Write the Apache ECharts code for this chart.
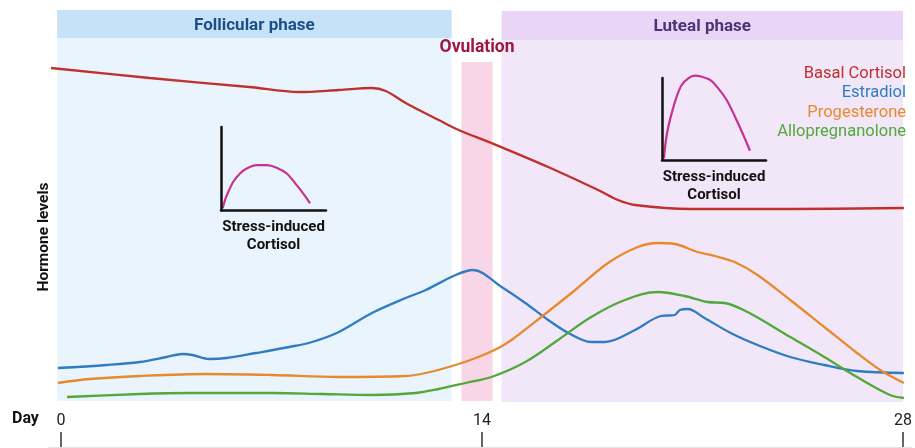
<!DOCTYPE html>
<html>
<head>
<meta charset="utf-8">
<script src="https://cdn.jsdelivr.net/npm/echarts@6/dist/echarts.min.js"></script>
<style>
html,body{margin:0;padding:0;background:#fff;}
#chart{width:915px;height:448px;}
</style>
</head>
<body>
<div id="chart"></div>
<script>
// ---- data (x = cycle day, y = relative hormone level) ----
const dayTicks = [0, 14, 28];
const basalCortisol = [[-0.33,379],[2.95,369],[6.26,360],[7.92,355],[9.24,357],[10.34,359],[10.80,356],[11.46,344],[12.56,327],[13.22,317],[14.31,304],[16.20,280],[17.86,257],[18.52,247],[19.09,242],[20.94,238],[24.25,238],[28.03,239]];
const estradiol = [[-0.10,79],[1.52,82],[2.62,85],[3.51,90],[4.04,93],[4.37,92],[4.94,88],[5.50,89],[6.49,94],[7.59,100],[8.35,105],[9.24,115],[10.34,134],[11.46,149],[12.13,157],[13.12,172],[13.70,177],[14.65,160],[15.44,144],[16.20,127],[16.87,114],[17.63,105],[18.09,105],[19.09,117],[19.95,131],[20.41,132],[20.58,137],[20.84,138],[21.40,129],[22.27,114],[23.16,102],[24.25,90],[25.38,82],[26.47,76],[28.03,74]];
const progesterone = [[-0.10,64],[0.96,68],[2.62,71],[4.84,73],[7.02,72],[9.24,70],[11.46,71],[12.13,74],[13.12,82],[13.88,90],[14.55,99],[14.98,107],[15.97,130],[17.10,157],[18.19,184],[19.18,200],[19.85,204],[20.41,203],[21.17,195],[21.74,191],[22.40,185],[23.16,172],[24.25,147],[25.38,120],[26.47,94],[27.24,77],[28.03,64]];
const allopregnanolone = [[0.20,50],[2.62,53],[4.27,54],[7.02,54],[8.68,53],[10.34,52],[11.80,54],[12.56,58],[13.45,64],[14.31,70],[15.44,85],[16.53,107],[17.63,130],[18.75,147],[19.85,155],[20.74,151],[21.50,145],[22.07,144],[22.83,135],[24.25,110],[25.38,90],[26.47,70],[27.57,52],[28.03,49]];
// phases: [startDay, endDay]
const follicularPhase = [-0.13, 12.99];
const ovulationPhase = [13.32, 14.35];
const lutealPhase = [14.65, 28.0];
// inset curves (stress-induced cortisol response)
const stressFollicular = [[0.16,0.2],[0.38,1.2],[0.70,2.2],[1.17,3.4],[1.81,4.4],[2.45,5.0],[3.40,5.4],[4.35,5.4],[5.30,5.1],[6.26,4.4],[7.21,3.0],[8.0,1.7],[8.48,0.8]];
const stressLuteal = [[0.19,0.2],[0.38,2.44],[0.61,4.06],[0.93,5.69],[1.41,7.72],[1.89,9.15],[2.53,9.96],[3.17,10.28],[3.82,10.16],[4.62,9.76],[5.41,8.74],[6.22,7.32],[7.02,5.28],[7.82,3.05],[8.46,1.13]];

const C = {red:'#c0302c', blue:'#2f7cc3', orange:'#e8892c', green:'#52a83a', magenta:'#c8318f'};
const FONT = 'Roboto';

const chart = echarts.init(document.getElementById('chart'));

function inset(gi){
  return {
    x: {gridIndex:gi, type:'value', min:0, max:10, z:6, axisLine:{show:true, onZero:false, lineStyle:{color:'#111', width:2.5}}, axisTick:{show:false}, axisLabel:{show:false}, splitLine:{show:false},
        name:'Stress-induced\nCortisol', nameLocation:'middle', nameGap:8,
        nameTextStyle:{fontFamily:FONT, fontWeight:'bold', fontSize:15, color:'#111', lineHeight:18, verticalAlign:'top'}},
    y: {gridIndex:gi, type:'value', min:0, max:10, z:6, axisLine:{show:true, onZero:false, lineStyle:{color:'#111', width:2.5}}, axisTick:{show:false}, axisLabel:{show:false}, splitLine:{show:false}}
  };
}
const in1 = inset(1), in2 = inset(2);

function lineSeries(name, data, color){
  return {name, type:'line', data, smooth:0.35, showSymbol:false, symbol:'none', z:3,
    lineStyle:{color, width:2.3}, itemStyle:{color}, clip:false};
}
function legendAt(name, color, top){
  return {data:[name], right:9, top, itemWidth:0, itemHeight:0, itemGap:0, icon:'rect', selectedMode:false,
    padding:0, textStyle:{color, fontFamily:FONT, fontSize:16.5, padding:[0,0,0,-5]}};
}

const option = {
  backgroundColor:'#fff',
  animation:false,
  grid:[
    {left:49, right:0, top:10, bottom:1},
    {left:221, top:127, width:105, height:83},
    {left:662, top:78, width:104, height:82}
  ],
  xAxis:[
    {gridIndex:0, type:'value', min:-0.4, max:28.3,
     axisLine:{show:true, lineStyle:{color:'#e3e3e3', width:1}},
     axisTick:{show:true, inside:true, length:15, customValues:dayTicks, lineStyle:{color:'#333', width:1.5}},
     axisLabel:{show:true, inside:true, margin:18, customValues:dayTicks, color:'#222', fontFamily:FONT, fontSize:16},
     splitLine:{show:false}},
    in1.x, in2.x
  ],
  yAxis:[
    {gridIndex:0, type:'value', min:0, max:437, axisLine:{show:false}, axisTick:{show:false}, axisLabel:{show:false}, splitLine:{show:false}},
    in1.y, in2.y
  ],
  legend:[
    legendAt('Basal Cortisol', C.red, 65),
    legendAt('Estradiol', C.blue, 84),
    legendAt('Progesterone', C.orange, 104),
    legendAt('Allopregnanolone', C.green, 123)
  ],
  series:[
    {type:'line', data:[], z:0, silent:true,
     markArea:{silent:true, data:[
       [{xAxis:follicularPhase[0], yAxis:409, itemStyle:{color:'#e9f4fd'}}, {xAxis:follicularPhase[1], yAxis:46}],
       [{xAxis:follicularPhase[0], yAxis:437, itemStyle:{color:'#c6e2f8'},
         label:{show:true, position:'inside', offset:[0,2], formatter:'Follicular phase', color:'#1d4f85', fontFamily:FONT, fontWeight:'bold', fontSize:17}},
        {xAxis:follicularPhase[1], yAxis:409}],
       [{xAxis:ovulationPhase[0], yAxis:385, itemStyle:{color:'#f9d5e8'},
         label:{show:true, position:'top', distance:5, formatter:'Ovulation', color:'#a01642', fontFamily:FONT, fontWeight:'bold', fontSize:17.5}},
        {xAxis:ovulationPhase[1], yAxis:46}],
       [{xAxis:lutealPhase[0], yAxis:407, itemStyle:{color:'#f2e7f9'}}, {xAxis:lutealPhase[1], yAxis:45}],
       [{xAxis:lutealPhase[0], yAxis:436, itemStyle:{color:'#e9d5f5'},
         label:{show:true, position:'inside', offset:[0,1], formatter:'Luteal phase', color:'#4a3377', fontFamily:FONT, fontWeight:'bold', fontSize:17}},
        {xAxis:lutealPhase[1], yAxis:407}]
     ]}},
    lineSeries('Basal Cortisol', basalCortisol, C.red),
    lineSeries('Estradiol', estradiol, C.blue),
    lineSeries('Progesterone', progesterone, C.orange),
    lineSeries('Allopregnanolone', allopregnanolone, C.green),
    {type:'line', xAxisIndex:1, yAxisIndex:1, data:stressFollicular, smooth:0.3, showSymbol:false, clip:false, z:4,
     lineStyle:{color:C.magenta, width:2.2}},
    {type:'line', xAxisIndex:2, yAxisIndex:2, data:stressLuteal, smooth:0.3, showSymbol:false, clip:false, z:4,
     lineStyle:{color:C.magenta, width:2.2}}
  ],
  graphic:[
    {type:'text', left:12, top:411, style:{text:'Day', fontFamily:FONT, fontWeight:'bold', fontSize:16, fill:'#111'}},
    {type:'text', x:44, y:237, rotation:Math.PI/2,
     style:{text:'Hormone levels', fontFamily:FONT, fontWeight:'bold', fontSize:15.5, fill:'#111', align:'center', verticalAlign:'middle'}}
  ]
};
chart.setOption(option);
</script>
</body>
</html>
